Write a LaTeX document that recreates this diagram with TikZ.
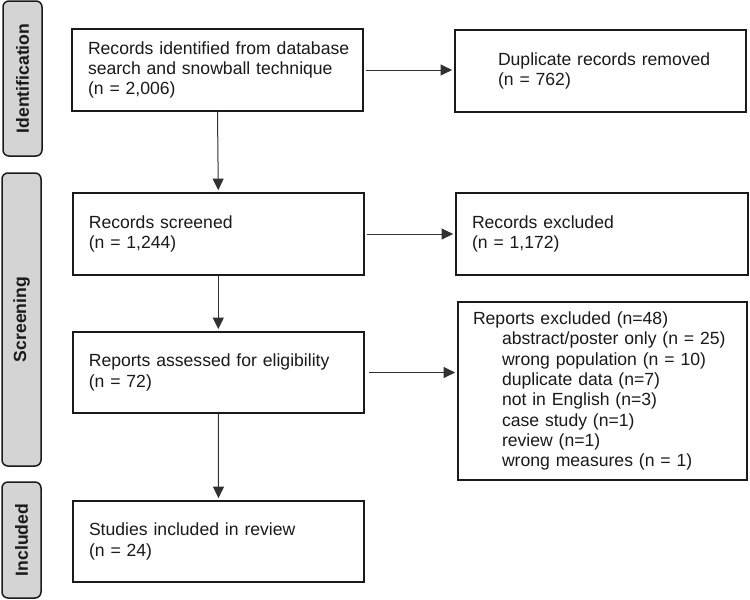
\documentclass[tikz,border=0pt]{standalone}
\usepackage{fontspec}
\setmainfont{Liberation Sans}
\usetikzlibrary{arrows.meta}
\definecolor{ink}{HTML}{1A1A1A}
\definecolor{phase}{HTML}{D4D4D4}
\begin{document}
\begin{tikzpicture}[x=1pt,y=-1pt,
  every node/.style={font=\fontsize{17.6}{20.3}\selectfont, text=ink},
  box/.style={draw=ink, line width=1.8pt, fill=white, inner xsep=16pt, inner ysep=0pt, align=left},
  phasebox/.style={draw=ink, line width=1.5pt, fill=phase, rounded corners=6pt, rotate=90,
     minimum height=39pt, inner sep=0pt, font=\fontsize{17.6}{20.3}\selectfont\bfseries},
  conn/.style={draw=ink!90, line width=1pt, -{Triangle[length=11.5pt,width=11pt]}, shorten >=2pt}
]
\useasboundingbox (0,0) rectangle (750,600);

% phase labels
\node[phasebox, minimum width=155pt] (pid) at (22.5,78.5) {Identification};
\node[phasebox, minimum width=293pt] (pscr) at (21.5,319.5) {Screening};
\node[phasebox, minimum width=116pt] (pinc) at (21.5,540) {Included};

% boxes
\node[box, text width=259pt, minimum height=82pt] (b1) at (217.5,70)
  {\mbox{Records identified from database}\\\mbox{search and snowball technique}\\(n = 2,006)};
\node[box, text width=259pt, minimum height=82pt] (b2) at (600.5,71)
  {\hspace*{27pt}Duplicate records removed\\\hspace*{27pt}(n = 762)};
\node[box, text width=259pt, minimum height=82pt] (b3) at (218.3,234)
  {Records screened\\(n = 1,244)};
\node[box, text width=260pt, minimum height=82pt] (b4) at (602,234)
  {Records excluded\\(n = 1,172)};
\node[box, text width=259pt, minimum height=81pt] (b5) at (218.3,372.5)
  {Reports assessed for eligibility\\(n = 72)};
\node[box, text width=259pt, minimum height=178pt, inner xsep=15pt] (b6) at (602.5,391)
  {Reports excluded (n=48)\\
   \hspace*{29pt}abstract/poster only (n = 25)\\
   \hspace*{29pt}wrong population (n = 10)\\
   \hspace*{29pt}duplicate data (n=7)\\
   \hspace*{29pt}not in English (n=3)\\
   \hspace*{29pt}case study (n=1)\\
   \hspace*{29pt}review (n=1)\\
   \hspace*{29pt}wrong measures (n = 1)};
\node[box, text width=259pt, minimum height=81pt] (b7) at (218.5,541.5)
  {Studies included in review\\(n = 24)};

% connectors
\draw[conn, shorten <=2pt] (b1.east) -- (b2.west |- b1.east);
\draw[conn] (b1.south) -- (b3.north);
\draw[conn, shorten <=2pt] (b3.east) -- (b4.west |- b3.east);
\draw[conn] (b3.south) -- (b5.north);
\draw[conn, shorten <=4pt] (b5.east) -- (b6.west |- b5.east);
\draw[conn] (b5.south) -- (b7.north);
\end{tikzpicture}
\end{document}
